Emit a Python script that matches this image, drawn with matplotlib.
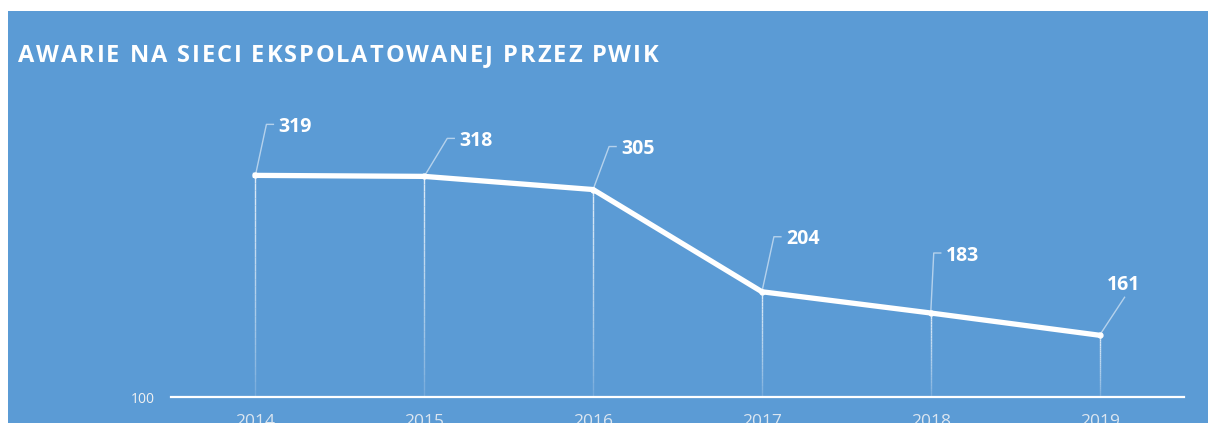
import matplotlib
matplotlib.use("Agg")
import matplotlib.pyplot as plt
from matplotlib.patches import Rectangle
from matplotlib.lines import Line2D
import numpy as np

years = ["2014", "2015", "2016", "2017", "2018", "2019"]
failures = [319, 318, 305, 204, 183, 161]
title = "AWARIE NA SIECI EKSPOLATOWANEJ PRZEZ PWIK"
y_min_label = "100"

# label leader offsets in pixels (dx, dy) from data point to leader end
label_offsets = [(11, 51), (23, 38), (16, 43), (12, 55), (3, 60), (25, 38)]

BLUE = "#5B9BD5"
W, H = 1208, 423
DPI = 100
plt.rcParams['font.family'] = ['Open Sans', 'DejaVu Sans']

fig = plt.figure(figsize=(W / DPI, H / DPI), dpi=DPI, facecolor="white")
fig.patches.append(Rectangle((8 / W, 0), 1 - 8 / W, 1 - 11 / H, transform=fig.transFigure,
                             facecolor=BLUE, edgecolor="none", zorder=-5))

ax_left, ax_right = 171, 1184
ax_bottom_px, ax_top_px = 397, 97
ax = fig.add_axes([ax_left / W, 1 - ax_bottom_px / H, (ax_right - ax_left) / W,
                   (ax_bottom_px - ax_top_px) / H])
ax.set_zorder(1)
ax.patch.set_alpha(0)
scale = 1.012
ax.set_xlim(-0.5, len(years) - 0.5)
ax.set_ylim(100, 100 + (ax_bottom_px - ax_top_px) / scale)
for s in ["top", "right", "left"]:
    ax.spines[s].set_visible(False)
ax.spines["bottom"].set_color("white")
ax.spines["bottom"].set_linewidth(1.6)
ax.set_xticks(range(len(years)))
ax.set_xticklabels(years)
ax.set_yticks([100])
ax.set_yticklabels([y_min_label])
ax.tick_params(axis="x", length=0, pad=12, labelsize=12.5, labelcolor="#DCE6F0")
ax.tick_params(axis="y", length=0, pad=11.5, labelsize=10, labelcolor="#F2F2F2")

x = np.arange(len(years))
# drop lines with fading gradient
nseg = 30
for xi, v in zip(x, failures):
    ys = np.linspace(v, 100, nseg + 1)
    for k in range(nseg):
        a = 0.75 * (1 - k / nseg) ** 0.6 + 0.05
        ax.plot([xi, xi], [ys[k], ys[k + 1]], color="white", lw=1.0, alpha=a,
                solid_capstyle="butt", zorder=2)

ax.plot(x, failures, color="white", lw=3.8, solid_joinstyle="miter", zorder=3)
ax.plot(x, failures, 'o', color="white", ms=3.5, zorder=4)

fig.canvas.draw()
renderer = fig.canvas.get_renderer()
inv = fig.transFigure.inverted()
for i, (xi, v) in enumerate(zip(x, failures)):
    px, py = ax.transData.transform((xi, v))
    dx, dy = label_offsets[i]
    ex, ey = px + dx, py + dy
    if i < len(years) - 1:
        pts = [(px, py), (ex, ey), (ex + 7, ey)]
        tx, ty, ha = ex + 12, ey, "left"
    else:
        pts = [(px, py), (ex, ey)]
        tx, ty, ha = ex - 1, ey + 15, "center"
    fpts = inv.transform(pts)
    fig.lines.append(Line2D(fpts[:, 0], fpts[:, 1], transform=fig.transFigure,
                            color="white", alpha=0.55, lw=1.0, zorder=5))
    ft = inv.transform((tx, ty))
    fig.text(ft[0], ft[1], str(v), ha=ha, va="center_baseline", color="white",
             fontsize=14, fontweight="bold", zorder=6)

# title with letter spacing
cx = 18.0
spacing = 1.9
for ch in title:
    t = fig.text(cx / W, 1 - 62 / H, ch, ha="left", va="baseline", color="white",
                 fontsize=17, fontweight="bold")
    if ch == " ":
        w = 17 * DPI / 72 * 0.26
    else:
        w = t.get_window_extent(renderer).width
    cx += w + spacing

fig.savefig("out.png", dpi=DPI, facecolor="white")
